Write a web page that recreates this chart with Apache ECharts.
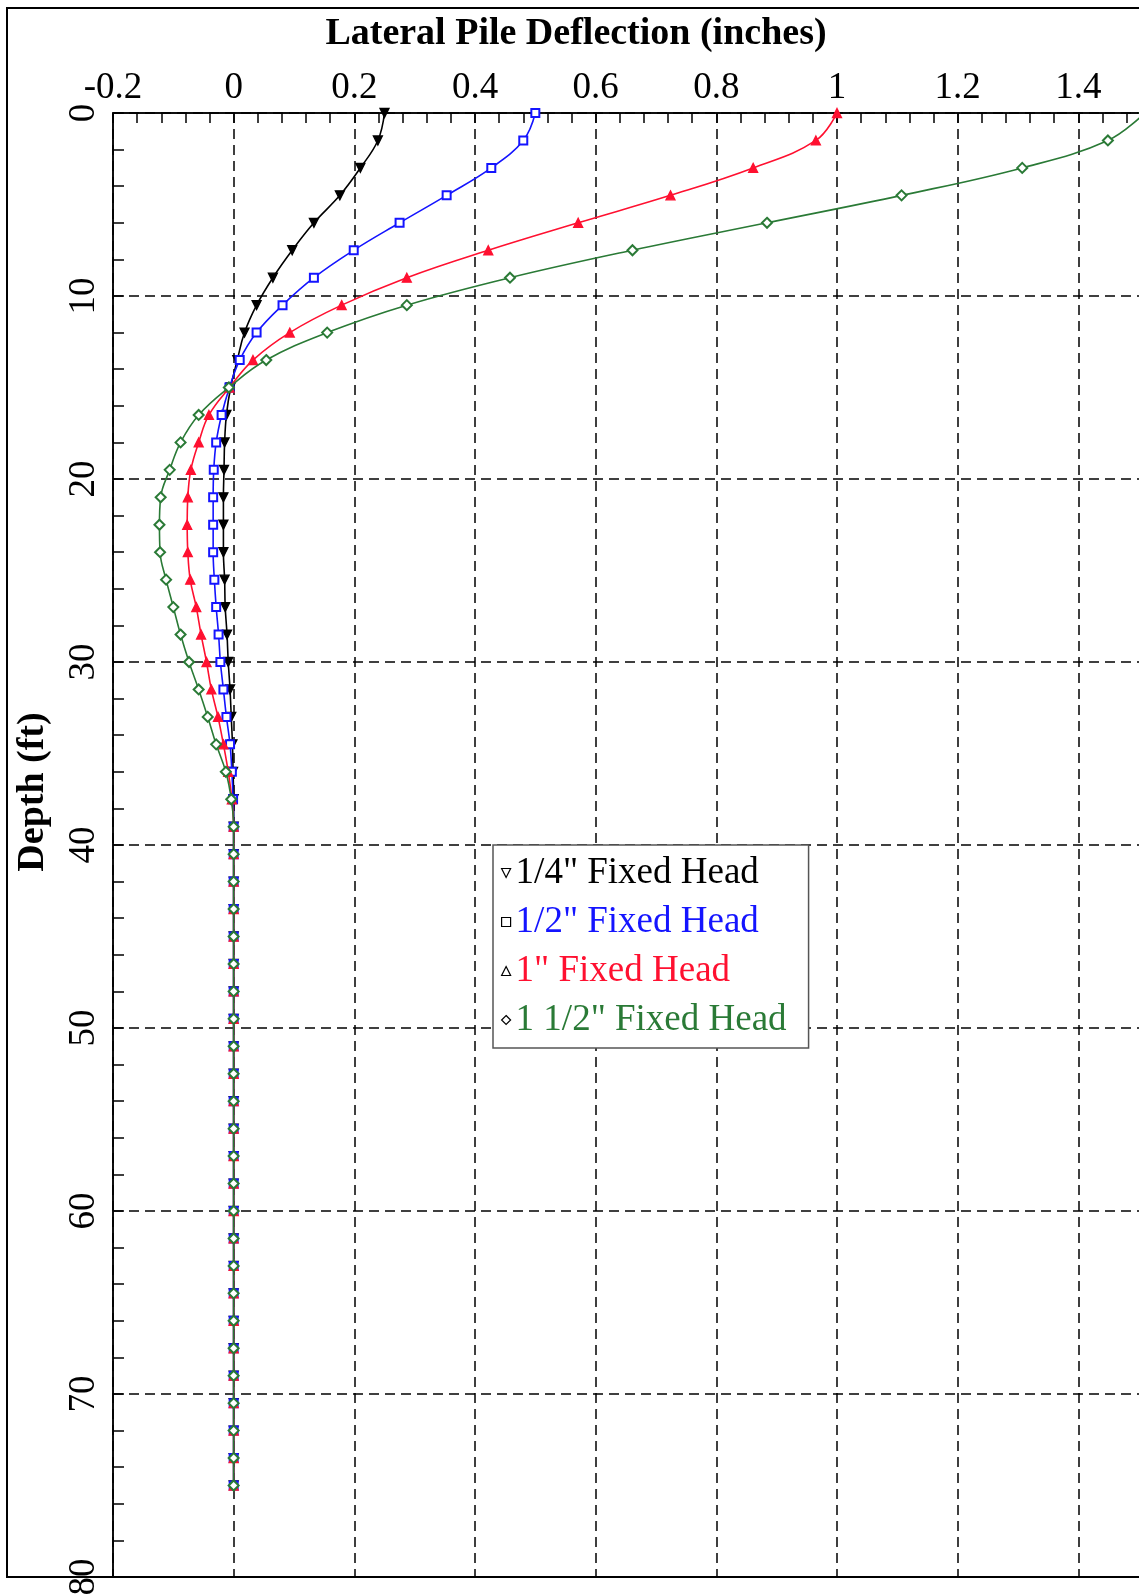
<!DOCTYPE html>
<html>
<head>
<meta charset="utf-8">
<script src="https://cdn.jsdelivr.net/npm/echarts@6/dist/echarts.min.js"></script>
<style>
html,body{margin:0;padding:0;background:#fff;}
#chart{width:1139px;height:1596px;}
</style>
</head>
<body>
<div id="chart"></div>
<script>
// Depth (ft) of each computed point
var depths = [0,1.5,3,4.5,6,7.5,9,10.5,12,13.5,15,16.5,18,19.5,21,22.5,24,25.5,27,28.5,30,31.5,33,34.5,36,37.5,
  39,40.5,42,43.5,45,46.5,48,49.5,51,52.5,54,55.5,57,58.5,60,61.5,63,64.5,66,67.5,69,70.5,72,73.5,75];

// Lateral deflection (inches) for each load case
var quarterInch = [0.250,0.239,0.210,0.176,0.133,0.097,0.065,0.038,0.018,0.006,-0.005,-0.012,-0.015,-0.016,-0.017,-0.017,-0.017,-0.015,-0.014,-0.011,-0.009,-0.006,-0.004,-0.002,-0.001,0,
  0,0,0,0,0,0,0,0,0,0,0,0,0,0,0,0,0,0,0,0,0,0,0,0,0];
var halfInch = [0.500,0.480,0.427,0.353,0.275,0.199,0.133,0.081,0.038,0.010,-0.007,-0.020,-0.029,-0.033,-0.034,-0.034,-0.034,-0.032,-0.029,-0.025,-0.022,-0.017,-0.012,-0.006,-0.003,-0.001,
  0,0,0,0,0,0,0,0,0,0,0,0,0,0,0,0,0,0,0,0,0,0,0,0,0];
var oneInch = [1.000,0.965,0.861,0.724,0.571,0.422,0.287,0.179,0.093,0.032,-0.007,-0.041,-0.058,-0.071,-0.076,-0.077,-0.076,-0.072,-0.062,-0.054,-0.045,-0.037,-0.026,-0.017,-0.009,-0.003,
  0,0,0,0,0,0,0,0,0,0,0,0,0,0,0,0,0,0,0,0,0,0,0,0,0];
var oneHalfInch = [1.510,1.449,1.307,1.107,0.884,0.661,0.458,0.287,0.155,0.054,-0.008,-0.058,-0.088,-0.106,-0.121,-0.123,-0.122,-0.112,-0.100,-0.088,-0.074,-0.058,-0.043,-0.029,-0.013,-0.004,
  0,0,0,0,0,0,0,0,0,0,0,0,0,0,0,0,0,0,0,0,0,0,0,0,0];

var seriesNames = ['1/4" Fixed Head','1/2" Fixed Head','1" Fixed Head','1 1/2" Fixed Head'];
var xTitle = 'Lateral Pile Deflection (inches)';
var yTitle = 'Depth (ft)';

var FONT = '"Liberation Serif","Times New Roman",serif';
var colors = ['#000000','#1414ff','#ff1030','#2a7a36'];
var invTri = 'path://M0,0 L10,0 L5,10 Z';

function pairs(vals){ return vals.map(function(v,i){ return [v, depths[i]]; }); }

var symbols = [invTri,'emptyRect','triangle','emptyDiamond'];
var symbolSizes = [9,8,9,10];
var allVals = [quarterInch, halfInch, oneInch, oneHalfInch];

var series = seriesNames.map(function(n, k){
  return {
    name: n, type: 'line', data: pairs(allVals[k]),
    smooth: 0.4,
    symbol: symbols[k], symbolSize: symbolSizes[k],
    showAllSymbol: true,
    lineStyle: {color: colors[k], width: 1.6},
    itemStyle: {color: colors[k], borderColor: colors[k], borderWidth: 1.3},
    z: 3 + k
  };
});

var legendIcons = [invTri, 'rect', 'triangle', 'diamond'];

var chart = echarts.init(document.getElementById('chart'), null, {renderer:'canvas'});
chart.setOption({
  animation: false,
  backgroundColor: '#ffffff',
  grid: {left: 113, top: 113, right: -60, bottom: 19, outerBoundsMode: 'none', containLabel: false,
    show: true, borderColor: '#000', borderWidth: 1.5, backgroundColor: 'transparent'},
  xAxis: {
    type: 'value', position: 'top', min: -0.2, max: 1.6, interval: 0.2,
    axisLine: {show: true, onZero: false, lineStyle: {color: '#000', width: 1.5}},
    axisTick: {show: true, inside: true, length: 10, lineStyle: {color: '#000', width: 1.5}},
    minorTick: {show: true, splitNumber: 5, length: 10, lineStyle: {color: '#000', width: 1.5}},
    axisLabel: {color: '#000', fontFamily: FONT, fontSize: 37, margin: 6,
      formatter: function(v){ return String(Math.round(v*10)/10); }},
    splitLine: {show: true, lineStyle: {color: '#000', width: 1.5, type: [10,6]}}
  },
  yAxis: {
    type: 'value', position: 'left', inverse: true, min: 0, max: 80, interval: 10,
    axisLine: {show: true, onZero: false, lineStyle: {color: '#000', width: 1.5}},
    axisTick: {show: true, inside: true, length: 11, lineStyle: {color: '#000', width: 1.5}},
    minorTick: {show: true, splitNumber: 5, length: 11, lineStyle: {color: '#000', width: 1.5}},
    axisLabel: {color: '#000', fontFamily: FONT, fontSize: 37, rotate: 90, margin: 10},
    splitLine: {show: true, lineStyle: {color: '#000', width: 1.5, type: [10,6]}}
  },
  legend: {
    orient: 'vertical', left: 493, top: 845,
    padding: [8, 22, 8, 8],
    itemGap: 9, itemWidth: 9, itemHeight: 9, itemTextGap: 6,
    borderColor: '#555', borderWidth: 1.5, backgroundColor: '#fff',
    textStyle: {fontFamily: FONT, fontSize: 37, lineHeight: 40},
    data: seriesNames.map(function(n, k){
      return {name: n, icon: legendIcons[k],
        itemStyle: {color: '#fff', borderColor: '#000', borderWidth: 1.2},
        textStyle: {color: colors[k]}};
    })
  },
  graphic: [
    {type: 'rect', shape: {x: 7, y: 8, width: 1200, height: 1569}, style: {fill: 'none', stroke: '#000', lineWidth: 2}, z: 100, silent: true},
    {type: 'text', x: 576, y: 34, style: {text: xTitle, font: 'bold 38px ' + FONT, fill: '#000', textAlign: 'center', textVerticalAlign: 'middle'}, z: 100},
    {type: 'text', x: 33, y: 792, rotation: Math.PI/2, style: {text: yTitle, font: 'bold 38px ' + FONT, fill: '#000', textAlign: 'center', textVerticalAlign: 'middle'}, z: 100}
  ],
  series: series
});
</script>
</body>
</html>
